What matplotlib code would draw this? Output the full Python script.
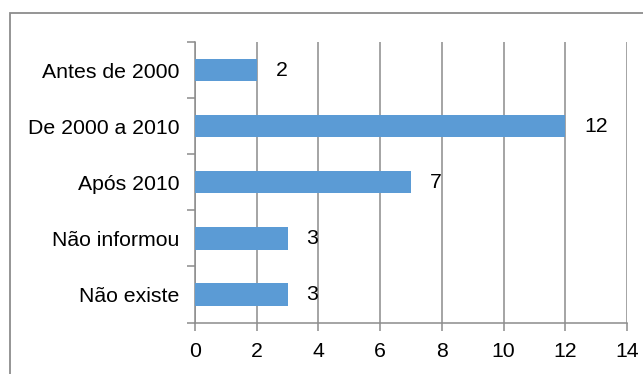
import matplotlib.pyplot as plt
from matplotlib.patches import Rectangle
from matplotlib.ticker import FixedLocator

plt.rcParams['font.family'] = ['Liberation Sans', 'DejaVu Sans']

# data (top to bottom as shown)
categories = ["Antes de 2000", "De 2000 a 2010", "Após 2010", "Não informou", "Não existe"]
values = [2, 12, 7, 3, 3]
x_ticks = [0, 2, 4, 6, 8, 10, 12, 14]

BAR = '#5B9BD5'
GRID = '#8C8C8C'
FS = 15.3

fig = plt.figure(figsize=(6.43, 3.74), dpi=100)
fig.patch.set_facecolor('white')

# outer chart border (runs off the right and bottom edges)
fig.patches.append(Rectangle((9.5 / 643, -0.05), 1.0, (374 - 12.5) / 374 + 0.05,
                             transform=fig.transFigure, fill=False,
                             edgecolor=GRID, lw=1.3, clip_on=False))

ax = fig.add_axes([195 / 643, (374 - 322.5) / 374, (627 - 195) / 643, (322.5 - 42) / 374])

n = len(categories)
ypos = [n - 1 - i for i in range(n)]
ax.barh(ypos, values, height=0.4, color=BAR, zorder=3)

for y, v in zip(ypos, values):
    ax.annotate(str(v), (v, y), xytext=(13.5, 0), textcoords='offset points',
                ha='left', va='center', fontsize=FS, color='black')

ax.set_xlim(0, 14)
ax.set_ylim(-0.5, n - 0.5)
ax.set_xticks(x_ticks)
ax.set_xticklabels([str(t) for t in x_ticks])
ax.set_yticks(ypos)
ax.set_yticklabels(categories)
ax.yaxis.set_minor_locator(FixedLocator([k - 0.5 for k in range(n + 1)]))

ax.xaxis.grid(True, color=GRID, lw=1.1, zorder=0)
ax.set_axisbelow(True)

for s in ['top', 'right']:
    ax.spines[s].set_visible(False)
for s in ['left', 'bottom']:
    ax.spines[s].set_color(GRID)
    ax.spines[s].set_linewidth(1.1)

ax.tick_params(axis='y', which='major', length=0, pad=11, labelsize=FS)
ax.tick_params(axis='y', which='minor', length=6, width=1.1, color=GRID)
ax.tick_params(axis='x', which='major', length=5.5, width=1.1, color=GRID, pad=8.5, labelsize=FS)

fig.savefig('out.png', dpi=100, facecolor='white')
